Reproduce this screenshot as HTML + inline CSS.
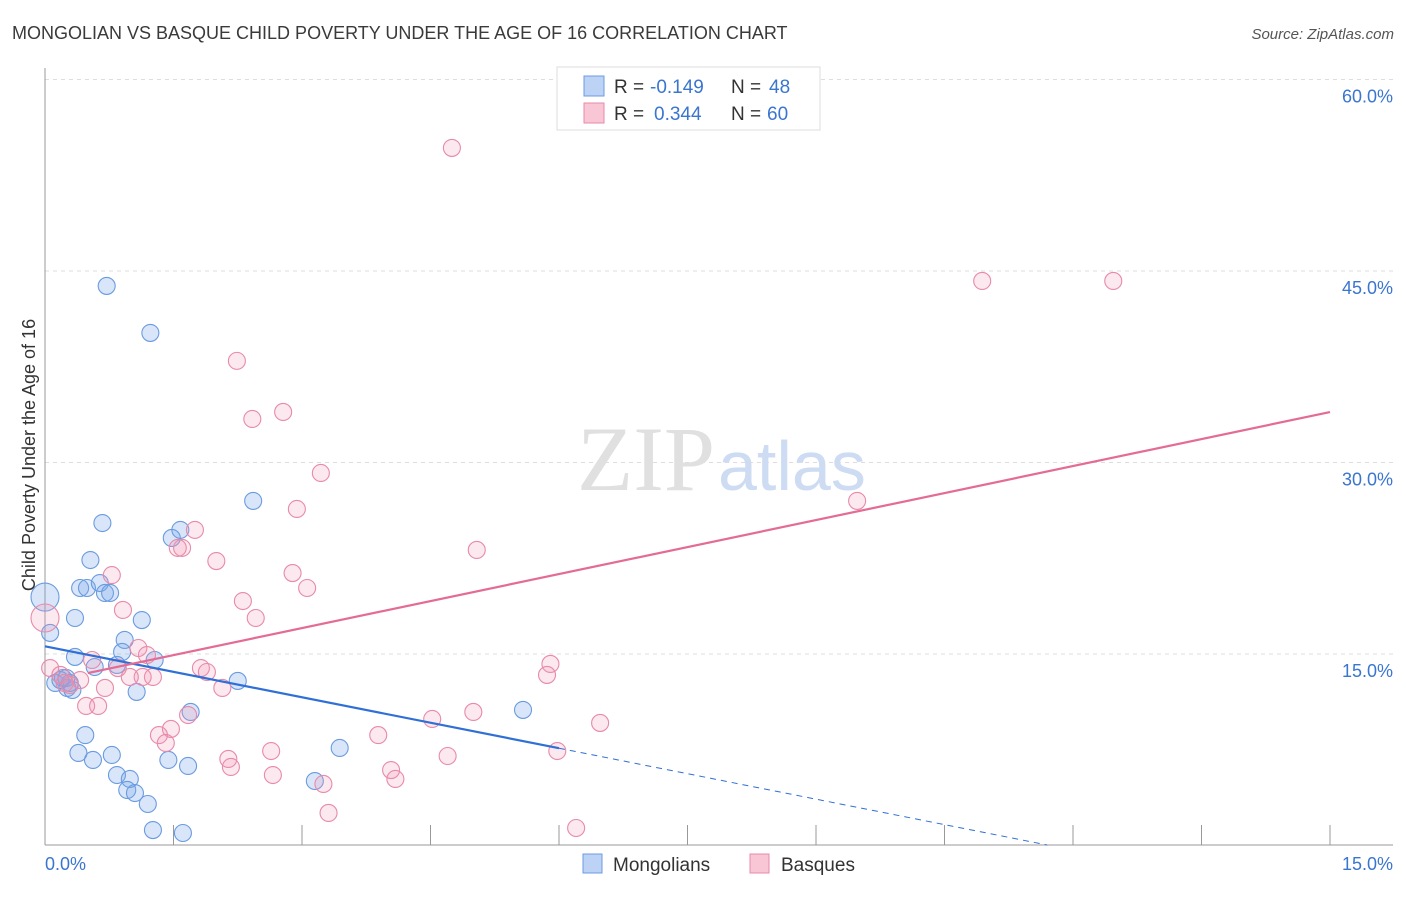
<!DOCTYPE html>
<html><head><meta charset="utf-8"><style>
body{margin:0;background:#fff;font-family:"Liberation Sans",sans-serif}
</style></head><body>
<svg width="1406" height="892" xmlns="http://www.w3.org/2000/svg" font-family="Liberation Sans, sans-serif">
<text x="12" y="39" font-size="18" fill="#3a3a3a">MONGOLIAN VS BASQUE CHILD POVERTY UNDER THE AGE OF 16 CORRELATION CHART</text>
<text x="1394" y="39" font-size="15" fill="#555" font-style="italic" text-anchor="end">Source: ZipAtlas.com</text>
<g id="grid"></g>
<text x="715" y="490" font-size="92" fill="#e0e0e0" text-anchor="end" font-family="Liberation Serif, serif">ZIP</text>
<text x="718" y="490" font-size="70" fill="#cddcf2">atlas</text>
<g id="axes"></g>
<g id="marks"></g>
<text x="35" y="455" font-size="18" fill="#333" text-anchor="middle" transform="rotate(-90 35 455)">Child Poverty Under the Age of 16</text>
<g>
<rect x="557" y="67" width="263" height="63" fill="#fff" stroke="#ddd"/>
<rect x="584" y="76" width="20" height="20" fill="#bcd3f5" stroke="#6a9be0"/>
<rect x="584" y="103" width="20" height="20" fill="#f8c6d5" stroke="#e88aa8"/>
<text x="614" y="93" font-size="19" fill="#333">R =</text>
<text x="650" y="93" font-size="19" fill="#3a75d0">-0.149</text>
<text x="731" y="93" font-size="19" fill="#333">N =</text>
<text x="769" y="93" font-size="19" fill="#3a75d0">48</text>
<text x="614" y="120" font-size="19" fill="#333">R =</text>
<text x="654" y="120" font-size="19" fill="#3a75d0">0.344</text>
<text x="731" y="120" font-size="19" fill="#333">N =</text>
<text x="767" y="120" font-size="19" fill="#3a75d0">60</text>
</g>
<g>
<rect x="583" y="854" width="19" height="19" fill="#bcd3f5" stroke="#6a9be0"/>
<text x="613" y="871" font-size="19" fill="#333">Mongolians</text>
<rect x="750" y="854" width="19" height="19" fill="#f8c6d5" stroke="#e88aa8"/>
<text x="781" y="871" font-size="19" fill="#333">Basques</text>
</g>
</svg>
<script>
const yTicks=[15,30,45,60];
const yTickLabels=["15.0%","30.0%","45.0%","60.0%"];
const mongX=[0,0.06,0.12,0.21,0.26,0.29,0.35,0.35,0.41,0.49,0.53,0.64,0.67,0.70,0.76,0.72,1.23,1.13,0.93,0.90,0.84,0.58,0.47,0.39,0.56,0.78,0.84,0.99,0.96,1.05,1.20,1.26,1.61,1.44,1.67,1.70,1.28,1.07,1.48,1.58,2.43,2.25,3.15,3.44,5.58,0.18,0.32,0.25];
const mongY=[19.46,16.65,12.73,13.12,12.34,12.73,14.77,17.82,20.17,20.17,22.36,20.56,25.26,19.78,19.78,43.83,40.15,17.66,16.10,15.16,14.14,13.98,8.65,7.25,6.70,7.09,5.52,5.21,4.35,4.11,3.25,1.21,0.98,6.70,6.23,10.46,14.53,12.03,24.09,24.72,26.99,12.89,5.05,7.64,10.62,12.96,12.18,13.12];
const basqX=[0,4.75,10.94,12.47,9.48,2.24,2.42,2.78,3.22,2.94,1.75,1.60,1.55,5.04,2.00,2.89,0.78,3.06,2.31,0.91,2.46,1.09,1.19,0.55,5.90,1.82,1.89,0.85,5.86,1.26,1.14,0.99,0.41,0.23,0.70,2.07,0.48,0.62,1.67,5.00,4.52,6.48,1.47,1.33,1.41,3.89,2.64,5.98,4.70,2.14,2.17,4.04,2.66,4.09,3.25,3.31,6.20,0.06,0.18,0.29];
const basqY=[17.82,54.64,44.22,44.22,26.99,37.96,33.41,33.96,29.18,26.36,24.72,23.31,23.31,23.15,22.28,21.34,21.18,20.17,19.15,18.45,17.82,15.47,14.92,14.53,14.22,13.90,13.59,13.90,13.36,13.20,13.20,13.20,12.96,12.73,12.34,12.34,10.93,10.93,10.22,10.46,9.91,9.60,9.13,8.65,8.03,8.65,7.40,7.40,7.01,6.78,6.15,5.91,5.52,5.21,4.82,2.55,1.37,13.90,13.36,12.57];
const mongTrend=[15.6,-1.33];
const basqTrend=[12.8,1.41];
const X=v=>45+v/15*1285, Y=v=>845.5-v/15*191.5;
const NS="http://www.w3.org/2000/svg";
function mk(p,t,a){const e=document.createElementNS(NS,t);for(const k in a)e.setAttribute(k,a[k]);p.appendChild(e);return e;}
const grid=document.getElementById('grid'),axes=document.getElementById('axes'),marks=document.getElementById('marks');
yTicks.forEach((t,i)=>{
 const l=mk(grid,'line',{x1:45,x2:1393,y1:Y(t),y2:Y(t),stroke:'#ddd','stroke-dasharray':'4,4'});
 
 
 const tx=mk(axes,'text',{x:1393,y:Y(t)+23,'font-size':18,fill:'#3a75d0','text-anchor':'end'});
 tx.textContent=yTickLabels[i];
 
 
});
mk(axes,'line',{x1:45,x2:45,y1:68,y2:845,stroke:'#999'});
mk(axes,'line',{x1:45,x2:1393,y1:845,y2:845,stroke:'#999'});
for(let i=0;i<=10;i++){mk(axes,'line',{x1:X(i*1.5),x2:X(i*1.5),y1:825,y2:845,stroke:'#999'});}
let t0=mk(axes,'text',{x:45,y:870,'font-size':18,fill:'#3a75d0'});t0.textContent='0.0%';


let t1=mk(axes,'text',{x:1393,y:870,'font-size':18,fill:'#3a75d0','text-anchor':'end'});t1.textContent='15.0%';


function pts(xs,ys,fill,stroke,name){xs.forEach((x,i)=>{const c=mk(marks,'circle',{cx:X(x),cy:Y(ys[i]),r:(x===0?14:8.5),fill:fill,stroke:stroke,'stroke-width':1.1});
 
 });}
pts(mongX,mongY,'rgba(120,165,235,0.28)','#6a9be0','mongolian-point');
pts(basqX,basqY,'rgba(240,150,180,0.22)','#e88aa8','basque-point');
const f=(tr,x)=>tr[0]+tr[1]*x;
let bl=mk(marks,'line',{x1:X(0),y1:Y(f(mongTrend,0)),x2:X(6),y2:Y(f(mongTrend,6)),stroke:'#2f6fd6','stroke-width':2.2});


let bd=mk(marks,'line',{x1:X(6),y1:Y(f(mongTrend,6)),x2:X(11.7),y2:Y(f(mongTrend,11.7)),stroke:'#2f6fd6','stroke-width':1,'stroke-dasharray':'6,5'});


let pl=mk(marks,'line',{x1:X(0.5),y1:Y(f(basqTrend,0.5)),x2:X(15),y2:Y(f(basqTrend,15)),stroke:'#e46b95','stroke-width':2.2});


</script>
</body></html>
